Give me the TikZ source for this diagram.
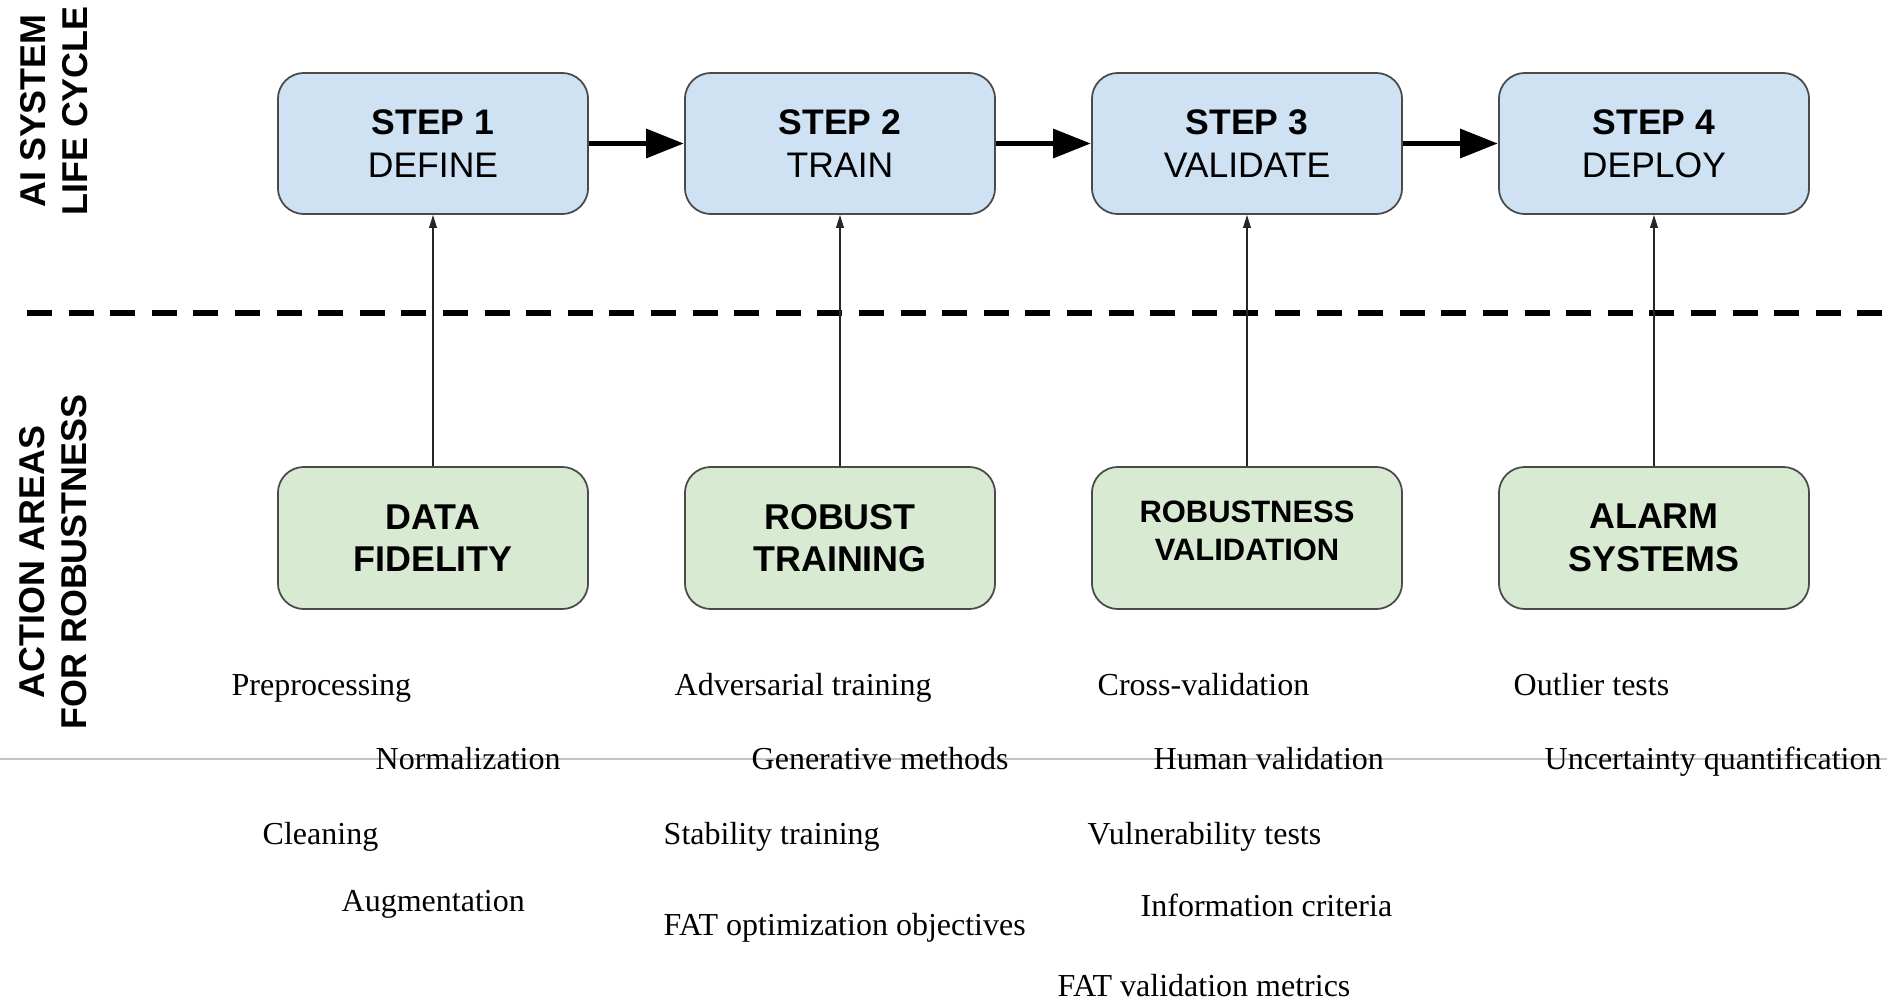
\documentclass[tikz,border=0pt]{standalone}
\usepackage{fontspec}
\setmainfont{Liberation Serif}
\newfontfamily\arialfont{Liberation Sans}
\usetikzlibrary{arrows.meta}
\definecolor{stepblue}{HTML}{CFE2F3}
\definecolor{areagreen}{HTML}{D9EAD3}
\definecolor{boxline}{HTML}{4A4A4A}
\definecolor{rulegray}{HTML}{C4C4C4}
\tikzset{
  stepbox/.style={draw=boxline, line width=0.5pt, fill=stepblue, rounded corners=0.26cm,
    minimum width=3.1cm, minimum height=1.41cm, align=center, inner sep=0pt,
    font=\arialfont\fontsize{10.1pt}{12.2pt}\selectfont},
  areabox/.style={stepbox, fill=areagreen, minimum height=1.42cm,
    font=\arialfont\bfseries\fontsize{10.2pt}{12.1pt}\selectfont},
  smallarea/.style={font=\arialfont\bfseries\fontsize{8.8pt}{10.8pt}\selectfont, text depth=4.3pt},
  flow/.style={line width=1.7pt, -{Triangle[length=10.8pt,width=8pt]}},
  feed/.style={line width=0.4pt, draw=black!85, -{Triangle[length=3.7pt,width=2.2pt]}},
  sidelabel/.style={rotate=90, align=center, inner sep=0pt,
    font=\arialfont\bfseries\fontsize{10.2pt}{12.1pt}\selectfont},
  item/.style={anchor=base west, inner sep=0pt, font=\fontsize{9.1pt}{11pt}\selectfont},
  divider/.style={line width=1.5pt, dash pattern=on 7.11pt off 4.72pt},
  hairline/.style={draw=rulegray, line width=0.5pt}
}
\begin{document}
\begin{tikzpicture}[x=0.01cm,y=-0.01cm]
\useasboundingbox (0,0) rectangle (1887,1000);

% thin gray rule behind the lower texts
\coordinate (gl) at (0,759);
\coordinate (gr) at (1887,759);
\draw[hairline] (gl) -- (gr);

% dashed divider
\coordinate (dl) at (27,313);
\coordinate (dr) at (1887,313);
\draw[divider] (dl) -- (dr);

% side labels
\node[sidelabel] (lifecycle) at (54,111) {AI SYSTEM\\LIFE CYCLE};
\node[sidelabel] (actionareas) at (53,562) {ACTION AREAS\\FOR ROBUSTNESS};

% life cycle steps
\node[stepbox] (s1) at (433,143.5) {\textbf{STEP 1}\\DEFINE};
\node[stepbox] (s2) at (840,143.5) {\textbf{STEP 2}\\TRAIN};
\node[stepbox] (s3) at (1247,143.5) {\textbf{STEP 3}\\VALIDATE};
\node[stepbox] (s4) at (1654,143.5) {\textbf{STEP 4}\\DEPLOY};

\draw[flow] (s1) -- (s2);
\draw[flow] (s2) -- (s3);
\draw[flow] (s3) -- (s4);

% action areas
\node[areabox] (a1) at (433,538) {DATA\\FIDELITY};
\node[areabox] (a2) at (840,538) {ROBUST\\TRAINING};
\node[areabox, smallarea] (a3) at (1247,538) {ROBUSTNESS\\VALIDATION};
\node[areabox] (a4) at (1654,538) {ALARM\\SYSTEMS};

\draw[feed] (a1) -- (s1);
\draw[feed] (a2) -- (s2);
\draw[feed] (a3) -- (s3);
\draw[feed] (a4) -- (s4);

% methods
\node[item] (t1) at (231,695) {Preprocessing};
\node[item] (t2) at (375,769) {Normalization};
\node[item] (t3) at (262,844) {Cleaning};
\node[item] (t4) at (341,911) {Augmentation};

\node[item] (t5) at (674,695) {Adversarial training};
\node[item] (t6) at (751,769) {Generative methods};
\node[item] (t7) at (663,844) {Stability training};
\node[item] (t8) at (663,935) {FAT optimization objectives};

\node[item] (t9) at (1097,695) {Cross-validation};
\node[item] (t10) at (1153,769) {Human validation};
\node[item] (t11) at (1087,844) {Vulnerability tests};
\node[item] (t12) at (1140,916) {Information criteria};
\node[item] (t13) at (1057,996) {FAT validation metrics};

\node[item] (t14) at (1513,695) {Outlier tests};
\node[item] (t15) at (1544,769) {Uncertainty quantification};
\end{tikzpicture}
\end{document}
